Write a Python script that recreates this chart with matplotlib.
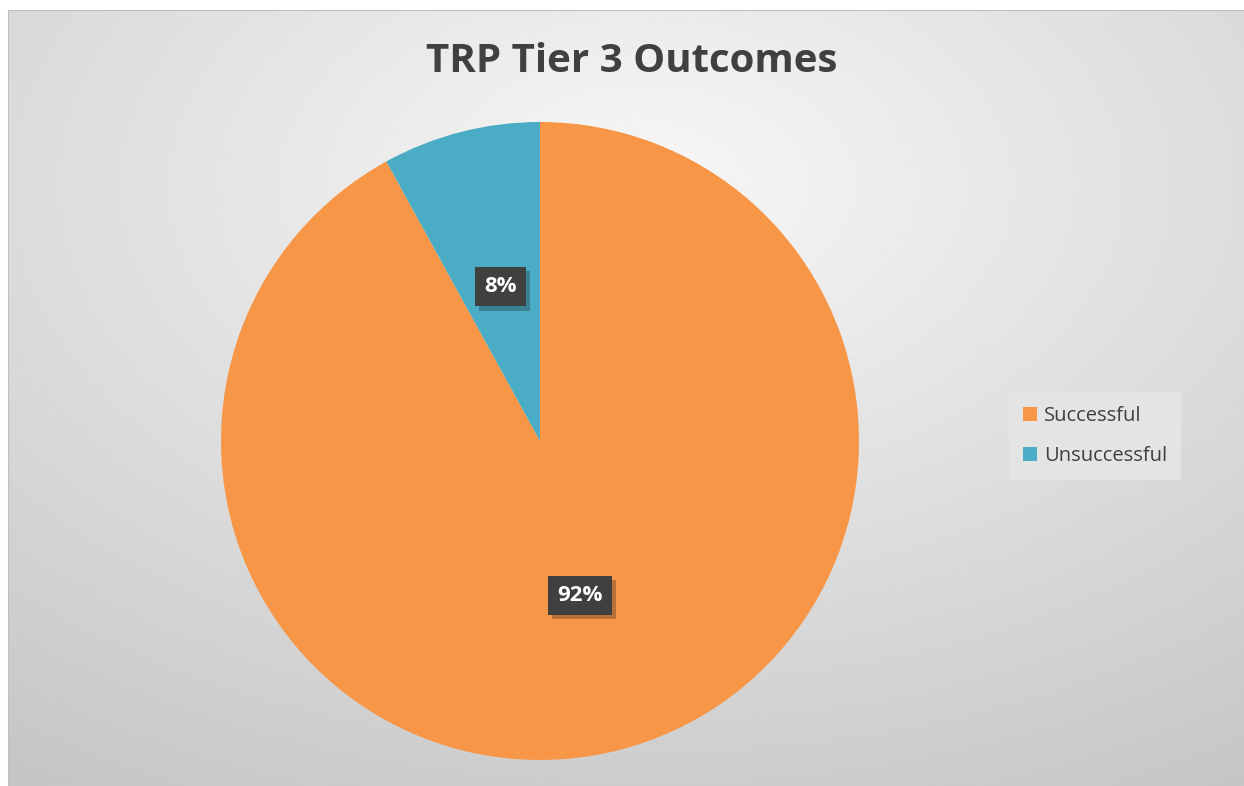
import numpy as np
import matplotlib.pyplot as plt
import matplotlib.patheffects as pe

title = 'TRP Tier 3 Outcomes'
categories = ['Successful', 'Unsuccessful']
values = [92, 8]
colors = ['#F79646', '#4BACC6']

W, H = 1244, 786
fig = plt.figure(figsize=(W / 100, H / 100), dpi=100)
fig.patch.set_facecolor('white')

# background panel with radial gradient
bg = fig.add_axes([8 / W, 0, 1 - 8 / W, (H - 10) / H])
yy, xx = np.mgrid[0:400, 0:640]
cx, cy = 330, 90
d = np.sqrt(((xx - cx) / 640) ** 2 + ((yy - cy) / 400) ** 2)
d = d / d.max()
shade = 0.97 - 0.2 * d
bg.imshow(shade, cmap='gray', vmin=0, vmax=1, aspect='auto', extent=[0, 1, 0, 1], origin='upper')
bg.set_xlim(0, 1)
bg.set_ylim(0, 1)
bg.set_xticks([])
bg.set_yticks([])
for s in bg.spines.values():
    s.set_visible(False)
bg.spines['top'].set_visible(True)
bg.spines['left'].set_visible(True)
bg.spines['top'].set_color('#bfbfbf')
bg.spines['left'].set_color('#bfbfbf')

r = 319
ax = fig.add_axes([(540 - r) / W, (H - 441 - r) / H, 2 * r / W, 2 * r / H])
ax.set_facecolor('none')
wedges, texts, autotexts = ax.pie(values, colors=colors, startangle=90, counterclock=False,
                                  autopct='%1.0f%%', pctdistance=0.5, radius=1,
                                  wedgeprops=dict(linewidth=0))
ax.set_xlim(-1, 1)
ax.set_ylim(-1, 1)
ax.set_aspect('equal')
for t in autotexts:
    t.set_color('white')
    t.set_fontsize(16)
    t.set_fontweight('bold')
    t.set_family('Open Sans')
    t.set_bbox(dict(boxstyle='square,pad=0.42', facecolor='#404040', edgecolor='none'))
    t.get_bbox_patch().set_path_effects([pe.SimplePatchShadow(offset=(3, -3), alpha=0.28), pe.Normal()])

fig.text(632 / W, 1 - 62 / H, title, ha='center', va='center', fontsize=29,
         fontweight='bold', color='#404040', family='Open Sans')

leg = fig.legend(wedges, categories, loc='center', bbox_to_anchor=(1095 / W, 1 - 436 / H),
                 frameon=True, handlelength=0.7, handleheight=0.7,
                 labelspacing=1.0, handletextpad=0.35, borderpad=0.7, fancybox=False,
                 prop={'family': 'Open Sans', 'size': 14.5})
leg.get_frame().set_facecolor('#e4e4e4')
leg.get_frame().set_edgecolor('none')
leg.get_frame().set_alpha(1)
for t in leg.get_texts():
    t.set_color('#404040')

fig.savefig('out.png', dpi=100)
